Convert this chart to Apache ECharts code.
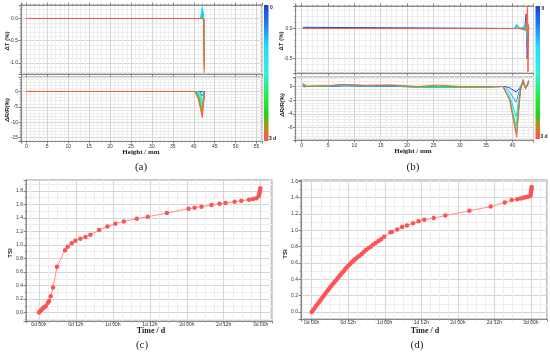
<!DOCTYPE html>
<html><head><meta charset="utf-8">
<script src="https://cdn.jsdelivr.net/npm/echarts@6/dist/echarts.min.js"></script>
<style>html,body{margin:0;padding:0;background:#fff}#c{width:550px;height:355px}</style>
</head><body><div id="c"></div>
<script>
// ---------- DATA ----------
// (a) ΔT (%) vs height (mm), one line per time step (0 -> 3 d)
const aDeltaT = [
  [[0,0],[41.8,0],[42.1,0.12],[42.35,0],[42.5,-0.2]],
  [[0,0],[41.7,0],[42.1,0.2],[42.35,0],[42.5,-0.4]],
  [[0,0],[41.6,0],[42.05,0.26],[42.3,0],[42.5,-0.6]],
  [[0,0],[41.7,0],[42.1,0.18],[42.35,0],[42.5,-0.8]],
  [[0,0],[41.9,0],[42.1,0.06],[42.4,0],[42.5,-0.95]],
  [[0,0],[42.3,0],[42.5,-1.05]],
  [[0,0],[42.35,0],[42.5,-1.15]],
  [[0,0],[42.4,0],[42.5,-1.22]]
];
// (a) ΔR/R (%) vs height (mm)
const aDeltaR = [
  [[0,0],[41.9,0],[42.2,-0.5],[42.6,-0.3],[42.65,0]],
  [[0,0],[41.5,0],[42.0,-1.4],[42.4,-1.2],[42.6,0]],
  [[0,0],[41.0,0],[41.6,-1.0],[42.0,-2.9],[42.4,-2.2],[42.6,0]],
  [[0,0],[40.8,0],[41.5,-1.6],[42.0,-4.1],[42.3,-2.6],[42.6,0]],
  [[0,0],[40.6,0],[41.3,-1.7],[41.95,-5.5],[42.3,-3.0],[42.6,0]],
  [[0,0],[40.5,0],[41.2,-2.0],[41.95,-6.7],[42.25,-3.6],[42.6,0]],
  [[0,0],[40.4,0],[41.2,-2.4],[42.0,-7.7],[42.25,-4.2],[42.6,0]],
  [[0.2,0],[0.6,0.3],[1.1,0.1],[1.8,0],[40.3,0],[41.1,-2.6],[41.6,-5.4],[42.05,-8.5],[42.3,-4.6],[42.6,0]]
];
// (b) ΔT (%) vs height (mm)
const bDeltaT = [
  [[0.2,0.02],[0.5,0],[40.5,0],[40.9,0.04],[41.4,0],[42.3,-0.02],[42.6,0.24],[42.8,-0.5],[43.0,0.02]],
  [[0.2,0],[40.4,0],[40.9,0.06],[41.4,0],[42.4,0.02],[42.65,0.14],[42.85,-0.35],[43.05,0]],
  [[0.2,0],[40.4,0],[40.8,0.07],[41.3,0],[42.5,0.04],[42.9,-0.22],[43.05,0.03]],
  [[0.2,0],[40.5,0],[41.0,0.04],[41.5,0],[42.7,0.02],[42.9,-0.12],[43.1,0.02]],
  [[0.2,0],[41.6,0],[42.5,-0.02],[42.9,-0.06],[43.1,0.04]],
  [[0.2,0],[42.2,0],[42.55,-0.04],[42.85,0.36],[42.95,-0.72],[43.1,0.08]]
];
// (b) ΔR/R (%) vs height (mm)
const bDeltaR = [
  [[0.2,0.1],[1,0],[5,0],[8,0.1],[12,0.05],[17,0.05],[22,-0.1],[28,-0.05],[35,-0.05],[38.6,0],[39.6,-0.25],[40.7,-0.8],[41.4,-0.2],[42,0.6],[42.5,-0.2],[43.1,0.5]],
  [[0.2,0.2],[1,0],[5,0.05],[8,0.15],[12,0.1],[17,0.1],[22,-0.05],[28,-0.05],[35,-0.05],[38.4,0],[39.5,-0.8],[40.7,-2.3],[41.4,-0.4],[42,0.7],[42.5,-0.3],[43.1,0.6]],
  [[0.2,0.3],[1,0],[5,0.05],[8,0.2],[12,0.1],[17,0.15],[22,-0.1],[28,-0.1],[35,-0.1],[38.2,0],[39.5,-1.4],[40.7,-4.4],[41.5,-0.5],[42,0.8],[42.5,-0.3],[43.1,0.7]],
  [[0.2,0.4],[1,0],[5,0.1],[8,0.25],[12,0.1],[17,0.15],[22,-0.1],[28,-0.1],[35,-0.1],[38.2,0],[39.5,-1.8],[40.7,-5.8],[41.5,-0.6],[42,0.9],[42.5,-0.3],[43.1,0.8]],
  [[0.2,0.5],[1,0],[5,0.1],[8,0.3],[12,0.15],[17,0.2],[22,-0.05],[28,-0.1],[35,-0.1],[38.2,0],[39.5,-2.0],[40.75,-6.8],[41.5,-0.7],[42,1.0],[42.5,-0.3],[43.1,0.85]],
  [[0.2,0.2],[0.4,-0.1],[1,0.05],[5,0.1],[8,0.3],[12,0.15],[17,0.2],[22,0],[26,0.2],[30,0],[35,0],[38.2,0],[39.5,-2.0],[40.1,-4.5],[40.8,-7.4],[41.5,-0.8],[42,1.0],[42.5,-0.3],[43.1,0.9]]
];
// (c) TSI vs time (hours)
const cHours = [0,0.33,0.76,1.19,1.63,2.17,2.82,3.25,3.79,4.55,5.85,8.46,9.32,10.62,11.82,13.44,15.07,16.69,19.51,22.22,24.82,27.53,31.76,35.34,41.52,48.56,50.51,52.79,56.04,58.64,60.6,63.52,65.69,68.18,69.48,70.57,71.33,71.54,71.65,71.76,71.87];
const cTSI = [0,0.02,0.04,0.059,0.079,0.094,0.143,0.173,0.242,0.37,0.677,0.923,0.973,1.027,1.062,1.091,1.116,1.151,1.22,1.274,1.314,1.348,1.388,1.417,1.472,1.536,1.551,1.565,1.59,1.61,1.62,1.64,1.654,1.669,1.679,1.689,1.719,1.748,1.778,1.807,1.837];
// (d) TSI vs time (hours)
const dHours = [0,0.5,1,1.5,2,2.5,3,3.5,4,4.5,5,5.5,6,6.5,7,7.5,8,8.5,9,9.5,10,10.5,11,11.5,12,12.6,13.2,13.8,14.4,15,15.7,16.4,17.1,17.8,18.6,19.4,20.2,21,21.9,22.8,23.8,25.9,26.3,28.1,29.7,31.3,33.3,35.1,37,40.1,43.9,51.8,58.8,63.4,65.7,67.5,68.6,69.5,70.2,71,71.7,71.9,72,72.1,72.2,72.25];
const dTSI = [0,0.025,0.05,0.075,0.1,0.125,0.15,0.175,0.2,0.225,0.25,0.275,0.3,0.322,0.345,0.367,0.39,0.412,0.435,0.457,0.48,0.5,0.525,0.545,0.565,0.587,0.61,0.63,0.65,0.67,0.69,0.71,0.735,0.76,0.78,0.8,0.825,0.845,0.87,0.89,0.92,0.975,0.98,1.01,1.04,1.06,1.085,1.11,1.13,1.15,1.18,1.24,1.29,1.34,1.37,1.38,1.39,1.4,1.405,1.41,1.42,1.43,1.46,1.49,1.51,1.53];
const colorbarLabels = ['0', '3 d'];
const panelLabels = ['(a)', '(b)', '(c)', '(d)'];

// ---------- STYLE ----------
const colsA = ['#2344d6','#1f86f3','#10d4ff','#14f0d8','#1ee86a','#2ad424','#c0901e','#ff5b48'];
const colsB = ['#2344d6','#18a8f8','#10e0ff','#1ef0a0','#22dc30','#ff5b48'];
const barStops = [
  {offset:0,color:'#2340d0'},{offset:0.12,color:'#1f6ff0'},{offset:0.3,color:'#20dcff'},
  {offset:0.5,color:'#30f0e0'},{offset:0.68,color:'#20ee40'},{offset:0.82,color:'#28d018'},
  {offset:0.9,color:'#c08a20'},{offset:1,color:'#ff5050'}
];
const sans = 'Liberation Sans', serif = 'Liberation Serif';
const onStep = (v, s) => Math.abs(v / s - Math.round(v / s)) < 1e-6;

function ax(extra) {
  return Object.assign({
    type: 'value',
    axisLine: {show: true, onZero: false, lineStyle: {color: '#8a8a8a', width: 1}},
    axisTick: {show: true, length: 2.5, lineStyle: {color: '#666', width: 0.8}},
    minorTick: {show: true, splitNumber: 5, length: 1.5, lineStyle: {color: '#888', width: 0.6}},
    splitLine: {show: true, lineStyle: {color: '#d6d6d6', width: 1}},
    minorSplitLine: {show: true, lineStyle: {color: '#ededed', width: 1}},
    axisLabel: {fontSize: 5, color: '#333', margin: 3, fontFamily: sans}
  }, extra);
}
const lbl = (fmt, m) => ({fontSize: 5, color: '#333', margin: m == null ? 3 : m, fontFamily: sans, formatter: fmt});
const noLbl = {show: false};
const fmtInt5 = v => onStep(v, 5) ? String(Math.round(v)) : '';
const fmtHalf = v => onStep(v, 0.5) ? v.toFixed(1) : '';
const fmtInt2 = v => onStep(v, 2) ? String(Math.round(v)) : '';
const fmtTSI = v => onStep(v, 0.2) ? v.toFixed(1) : '';
const fmtDay = v => {
  if (!onStep(v, 0.5)) return '';
  const h = Math.round(v * 24), d = Math.floor(h / 24), hh = h % 24;
  return d + 'd ' + String(hh).padStart(2, '0') + 'h';
};

const grids = [
  {left: 21, top: 5, width: 241, height: 69},
  {left: 21, top: 77, width: 241, height: 64},
  {left: 295.5, top: 6, width: 238, height: 67},
  {left: 295.5, top: 77, width: 238, height: 63},
  {left: 26, top: 180, width: 246, height: 141},
  {left: 301, top: 180, width: 247, height: 139}
].map(g => Object.assign({show: true, borderColor: '#9a9a9a', borderWidth: 1.2, containLabel: false}, g));

const tickMinor4 = {show: true, splitNumber: 4, length: 1.5, lineStyle: {color: '#888', width: 0.6}};
const tickMinor2 = {show: true, splitNumber: 2, length: 1.5, lineStyle: {color: '#888', width: 0.6}};
const xAxes = [
  ax({gridIndex: 0, min: -1.27, max: 56.3, splitNumber: 12, axisLabel: noLbl}),
  ax({gridIndex: 0, min: -1.27, max: 56.3, splitNumber: 12, position: 'top', axisLabel: noLbl, splitLine: {show: false}, minorSplitLine: {show: false}}),
  ax({gridIndex: 1, min: -1.27, max: 56.3, splitNumber: 12, axisLabel: lbl(fmtInt5)}),
  ax({gridIndex: 2, min: -1.18, max: 44.0, splitNumber: 9, axisLabel: noLbl}),
  ax({gridIndex: 2, min: -1.18, max: 44.0, splitNumber: 9, position: 'top', axisLabel: noLbl, splitLine: {show: false}, minorSplitLine: {show: false}}),
  ax({gridIndex: 3, min: -1.18, max: 44.0, splitNumber: 9, axisLabel: lbl(fmtInt5)}),
  ax({gridIndex: 4, min: -0.176, max: 3.153, splitNumber: 7, minorTick: tickMinor4, axisLabel: lbl(fmtDay, 1)}),
  ax({gridIndex: 5, min: -0.146, max: 3.22, splitNumber: 7, minorTick: tickMinor4, axisLabel: lbl(fmtDay, 1)})
];
const yAxes = [
  ax({gridIndex: 0, min: -1.25, max: 0.304, splitNumber: 3, axisLabel: lbl(fmtHalf)}),
  ax({gridIndex: 1, min: -16.1, max: 4.716, splitNumber: 4, axisLabel: lbl(fmtInt5)}),
  ax({gridIndex: 2, min: -0.74, max: 0.374, splitNumber: 2, axisLabel: lbl(fmtHalf)}),
  ax({gridIndex: 3, min: -7.8, max: 1.385, splitNumber: 4, axisLabel: lbl(fmtInt2)}),
  ax({gridIndex: 4, min: -0.124, max: 1.96, splitNumber: 10, minorTick: tickMinor2, axisLabel: lbl(fmtTSI)}),
  ax({gridIndex: 5, min: -0.086, max: 1.616, splitNumber: 8, minorTick: tickMinor2, axisLabel: lbl(fmtTSI)})
];

const series = [];
function addLines(arr, cols, xi, yi) {
  arr.forEach((d, i) => series.push({
    type: 'line', data: d, xAxisIndex: xi, yAxisIndex: yi, showSymbol: false,
    lineStyle: {color: cols[i], width: 1}, itemStyle: {color: cols[i]}, silent: true, animation: false
  }));
}
addLines(aDeltaT, colsA, 0, 0);
addLines(aDeltaR, colsA, 2, 1);
addLines(bDeltaT, colsB, 3, 2);
addLines(bDeltaR, colsB, 5, 3);
function addTSI(hours, tsi, xi, yi) {
  series.push({
    type: 'line', data: hours.map((h, i) => [h / 24, tsi[i]]), xAxisIndex: xi, yAxisIndex: yi,
    symbol: 'circle', symbolSize: 4.5, showSymbol: true,
    lineStyle: {color: '#ff8c8c', width: 1}, itemStyle: {color: '#ff5454'}, animation: false, silent: true
  });
}
addTSI(cHours, cTSI, 6, 4);
addTSI(dHours, dTSI, 7, 5);

function txt(x, y, s, font) {
  return {type: 'text', x: x, y: y, style: {text: s, font: font, fill: '#222', textAlign: 'center', textVerticalAlign: 'middle'}};
}
function rtxt(x, y, s, font) {
  return {type: 'text', x: x, y: y, rotation: Math.PI / 2, style: {text: s, font: font, fill: '#222', textAlign: 'center', textVerticalAlign: 'middle'}};
}
function bar(x, y, h) {
  return {type: 'rect', shape: {x: x, y: y, width: 4.5, height: h},
    style: {fill: new echarts.graphic.LinearGradient(0, 0, 0, 1, barStops)}};
}
const graphic = [
  bar(264, 5, 136), bar(535.5, 6, 133),
  txt(271.5, 7.5, colorbarLabels[0], 'bold 5px ' + sans), txt(272.5, 138.5, colorbarLabels[1], 'bold 5px ' + sans),
  txt(543, 8.5, colorbarLabels[0], 'bold 5px ' + sans), txt(544, 136.5, colorbarLabels[1], 'bold 5px ' + sans),
  rtxt(7, 41, 'ΔT (%)', 'bold 6px ' + sans), rtxt(7, 110, 'ΔR/R(%)', 'italic bold 6px ' + sans),
  rtxt(281, 41, 'ΔT (%)', 'bold 6px ' + sans), rtxt(282, 105, 'ΔR/R(%)', 'italic bold 6px ' + sans),
  txt(141, 152.5, 'Height / mm', 'bold 7px ' + serif), txt(413, 151.5, 'Height / mm', 'bold 7px ' + serif),
  rtxt(10, 253, 'TSI', 'bold 6px ' + sans), rtxt(285, 254, 'TSI', 'bold 6px ' + sans),
  txt(151, 331, 'Time / d', 'bold 8px ' + serif), txt(425, 331, 'Time / d', 'bold 8px ' + serif),
  txt(141, 167, panelLabels[0], '11px ' + serif), txt(413, 167, panelLabels[1], '11px ' + serif),
  txt(142, 345, panelLabels[2], '11px ' + serif), txt(417, 345, panelLabels[3], '11px ' + serif)
];

const chart = echarts.init(document.getElementById('c'), null, {renderer: 'canvas'});
chart.setOption({
  backgroundColor: '#fff', animation: false,
  grid: grids, xAxis: xAxes, yAxis: yAxes, series: series, graphic: graphic
});
</script></body></html>
